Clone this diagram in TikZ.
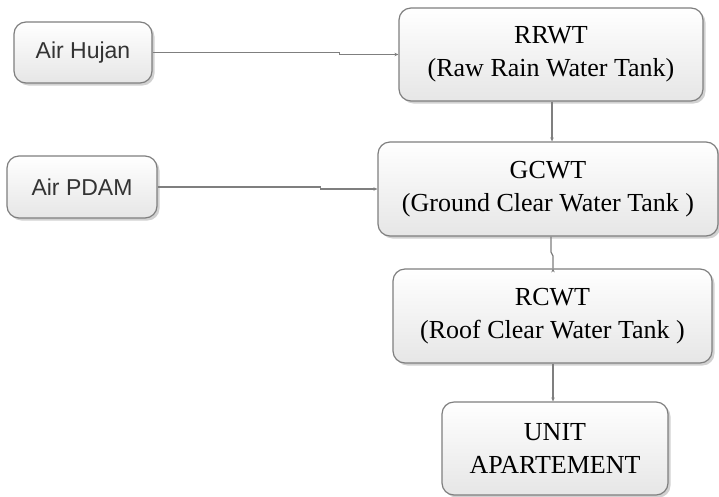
\documentclass[tikz,border=0pt]{standalone}
\usepackage{fontspec}
\setmainfont{Liberation Serif}
\newfontfamily\boxsans{Liberation Sans}
\usetikzlibrary{shadows,arrows.meta,calc}
\definecolor{edgegray}{HTML}{7F7F7F}
\definecolor{fillbot}{HTML}{E6E6E6}
\tikzset{
  x=1pt,y=1pt,
  tank/.style={draw=edgegray, line width=1.2pt, rounded corners=12pt,
    top color=white, bottom color=fillbot, align=center, inner sep=0pt,
    drop shadow={shadow xshift=2.5pt, shadow yshift=-2.5pt, fill=black, opacity=0.18},
    text=black, font=\fontsize{26}{33}\selectfont},
  source/.style={tank, font=\boxsans\fontsize{23}{27}\selectfont, text=black!80},
  flow/.style={draw=edgegray, line width=1.2pt,
    -{Stealth[length=4pt,width=3.5pt]}}
}
\begin{document}
\begin{tikzpicture}
\useasboundingbox (0,0) rectangle (719,-496);
\fill[white] (0,0) rectangle (719,-496);

% source boxes
\node[source, minimum width=138, minimum height=61] (hujan) at (83,-52.5) {Air Hujan};
\node[source, minimum width=150, minimum height=62] (pdam) at (82,-187) {Air PDAM};

% tanks
\node[tank, minimum width=304, minimum height=93] (rrwt) at (551,-54.5)
  {RRWT\\(Raw Rain Water Tank)};
\node[tank, minimum width=340, minimum height=94] (gcwt) at (548,-189)
  {GCWT\\(Ground Clear Water Tank )};
\node[tank, minimum width=319, minimum height=94] (rcwt) at (552.5,-316)
  {RCWT\\(Roof Clear Water Tank )};
\node[tank, minimum width=226, minimum height=93] (unit) at (555,-448.5)
  {UNIT\\APARTEMENT};

% connectors
\coordinate (j1) at ($(hujan.east)!0.76!(rrwt.west)$);
\draw[flow] (hujan.east) -| (j1) |- (rrwt.west);
\coordinate (j2) at ($(pdam.east)!0.74!(gcwt.west)$);
\draw[flow] (pdam.east) -| (j2) |- (gcwt.west);
\draw[flow] (rrwt.south -| 552,0) -- (gcwt.north -| 552,0);
\coordinate (j3) at (551,-252);
\draw[flow] (gcwt.south -| j3) -- (j3) -- ++(2,-4) |- (rcwt.north -| 553,0);
\draw[flow] (rcwt.south -| 553,0) -- (unit.north -| 553,0);
\end{tikzpicture}
\end{document}
